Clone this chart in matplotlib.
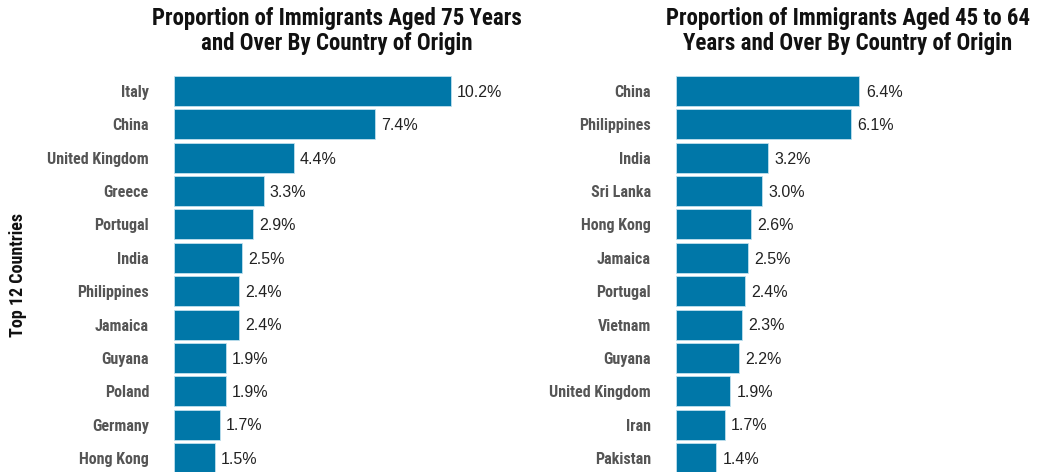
import matplotlib
matplotlib.use('Agg')
import matplotlib.pyplot as plt

countries_75 = ['Italy', 'China', 'United Kingdom', 'Greece', 'Portugal', 'India',
                'Philippines', 'Jamaica', 'Guyana', 'Poland', 'Germany', 'Hong Kong']
values_75 = [10.2, 7.4, 4.4, 3.3, 2.9, 2.5, 2.4, 2.4, 1.9, 1.9, 1.7, 1.5]

countries_45 = ['China', 'Philippines', 'India', 'Sri Lanka', 'Hong Kong', 'Jamaica',
                'Portugal', 'Vietnam', 'Guyana', 'United Kingdom', 'Iran', 'Pakistan']
values_45 = [6.4, 6.1, 3.2, 3.0, 2.6, 2.5, 2.4, 2.3, 2.2, 1.9, 1.7, 1.4]

titles = ['Proportion of Immigrants Aged 75 Years\nand Over By Country of Origin',
          'Proportion of Immigrants Aged 45 to 64\nYears and Over By Country of Origin']

W, H = 1040, 472
BAR = '#0077a8'
NARROW = ['Roboto Condensed', 'Archivo Narrow', 'DejaVu Sans']

fig = plt.figure(figsize=(W / 100, H / 100), dpi=100)

def add_axes(x0, x1, y_top, y_bot):
    return fig.add_axes([x0 / W, 1 - y_bot / H, (x1 - x0) / W, (y_bot - y_top) / H])

row = 33.36
top_c = 91
ax1 = add_axes(174, 500, top_c - row / 2, top_c + 11.5 * row)
ax2 = add_axes(676, 1020, top_c - row / 2, top_c + 11.5 * row)

panels = [(ax1, countries_75, values_75, titles[0], 337),
          (ax2, countries_45, values_45, titles[1], 848)]

for ax, cats, vals, title, tx in panels:
    pos = list(range(len(cats)))
    bars = ax.barh(pos, vals, height=0.9, color=BAR, edgecolor='#bfe0ee', linewidth=0.6)
    ax.set_ylim(len(cats) - 0.5, -0.5)
    ax.set_xlim(0, 12)
    ax.set_yticks(pos)
    ax.set_yticklabels(cats, fontfamily=NARROW, fontweight='bold', fontsize=11.5, color='#555555')
    ax.tick_params(axis='y', length=0, pad=18)
    ax.set_xticks([])
    for s in ax.spines.values():
        s.set_visible(False)
    for b, v in zip(bars, vals):
        ax.text(b.get_width() + 0.22, b.get_y() + b.get_height() / 2 + 0.04, f'{v:.1f}%',
                va='center', ha='left', fontsize=11.5, fontfamily='Liberation Sans', color='#222222')
    fig.text(tx / W, 1 - 31 / H, title, ha='center', va='center', fontfamily=NARROW,
             fontweight='bold', fontsize=16.5, color='#111111', linespacing=1.1)

fig.text(18 / W, 1 - 275 / H, 'Top 12 Countries', rotation=90, ha='center', va='center',
         fontfamily=NARROW, fontweight='bold', fontsize=13, color='#111111')

fig.savefig('out.png', dpi=100)
